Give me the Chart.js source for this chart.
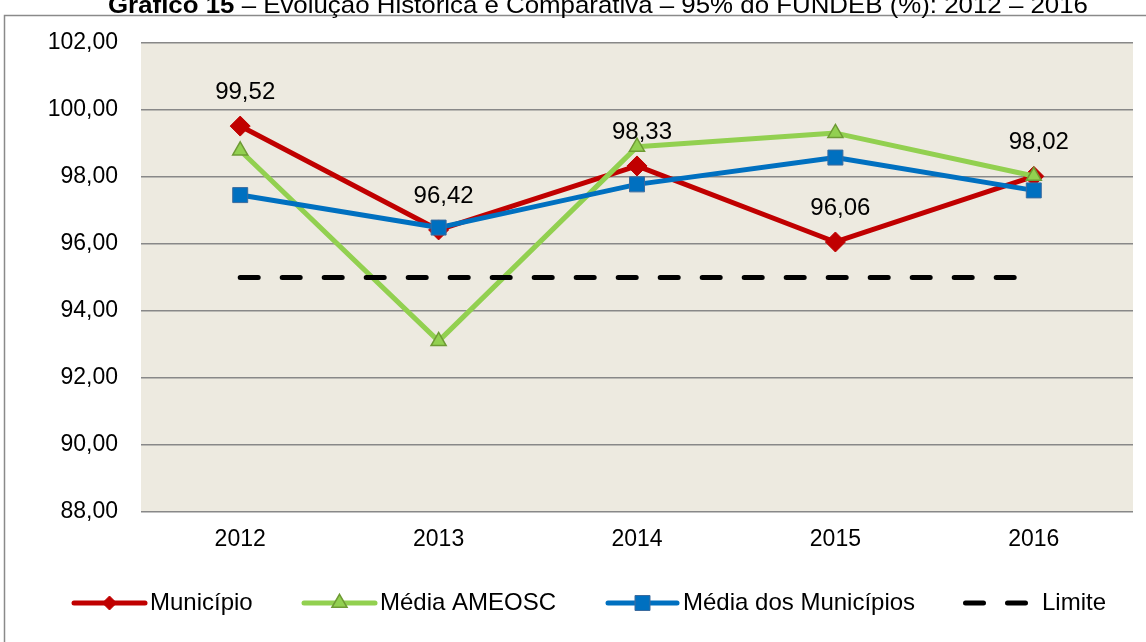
<!DOCTYPE html>
<html><head><meta charset="utf-8">
<script src="https://cdn.jsdelivr.net/npm/chart.js@4/dist/chart.umd.min.js"></script>
<style>html,body{margin:0;padding:0;background:#fff;overflow:hidden}canvas{display:block}</style>
</head><body>
<canvas id="c" width="1146" height="642"></canvas>
<script>
// ---- data ----
const categories = ['2012', '2013', '2014', '2015', '2016'];
const municipio = [99.52, 96.42, 98.33, 96.06, 98.02];
const mediaAmeosc = [98.79, 93.10, 98.90, 99.31, 98.03];
const mediaMunicipios = [97.46, 96.49, 97.78, 98.58, 97.60];
const limite = [95, 95, 95, 95, 95];
const seriesNames = ['Município', 'Média AMEOSC', 'Média dos Municípios', 'Limite'];
const yMin = 88, yMax = 102, yStep = 2;
const titleBold = 'Gráfico 15';
const titleRest = ' – Evolução Histórica e Comparativa – 95% do FUNDEB (%): 2012 – 2016';

const FONT = "'Liberation Sans', Arial, sans-serif";
const fmt = v => v.toFixed(2).replace('.', ',');

const frame = {
  id: 'frame',
  beforeDraw(chart) {
    const { ctx, chartArea: a } = chart;
    ctx.save();
    ctx.fillStyle = '#ffffff';
    ctx.fillRect(0, 0, chart.width, chart.height);
    ctx.fillStyle = '#EDEAE0';
    ctx.fillRect(a.left, a.top, a.right - a.left, a.bottom - a.top);
    ctx.strokeStyle = '#8a8a8a';
    ctx.lineWidth = 1.5;
    ctx.strokeRect(4.5, 15.5, 1400, 900);
    ctx.restore();
  }
};

const dataLabels = {
  id: 'dataLabels',
  afterDatasetsDraw(chart) {
    const ctx = chart.ctx;
    const meta = chart.getDatasetMeta(0);
    ctx.save();
    ctx.font = '24px ' + FONT;
    ctx.fillStyle = '#000';
    ctx.textAlign = 'center';
    ctx.textBaseline = 'middle';
    meta.data.forEach((el, i) => {
      ctx.fillText(fmt(municipio[i]), el.x + 5, el.y - 34);
    });
    ctx.restore();
  }
};

const titleAndLegend = {
  id: 'titleAndLegend',
  afterDraw(chart) {
    const ctx = chart.ctx;
    ctx.save();
    // title (clipped at top as in reference)
    ctx.textBaseline = 'alphabetic';
    ctx.fillStyle = '#000';
    ctx.font = 'bold 24px ' + FONT;
    const wb = ctx.measureText(titleBold).width;
    ctx.font = '24px ' + FONT;
    const wr = ctx.measureText(titleRest).width;
    const sx = 980 / (wb + wr);
    ctx.translate(108, 12.5);
    ctx.scale(sx, 1);
    ctx.font = 'bold 24px ' + FONT;
    ctx.fillText(titleBold, 0, 0);
    ctx.font = '24px ' + FONT;
    ctx.fillText(titleRest, wb, 0);
    ctx.restore();

    // legend
    ctx.save();
    const ly = 603;
    const items = [
      { ds: 0, x0: 74, x1: 145, tx: 150, r: 7 },
      { ds: 1, x0: 304, x1: 375, tx: 380, r: 8.7 },
      { ds: 2, x0: 608, x1: 677, tx: 683, r: 10.6 },
      { ds: 3, x0: 963, x1: 1031, tx: 1042, r: 0 }
    ];
    items.forEach(it => {
      const d = chart.data.datasets[it.ds];
      ctx.save();
      ctx.strokeStyle = d.borderColor;
      ctx.lineWidth = d.borderWidth;
      ctx.lineCap = 'round';
      if (d.borderDash) ctx.setLineDash(d.borderDash);
      ctx.beginPath();
      ctx.moveTo(it.x0 + (d.borderDash ? 2.5 : 0), ly);
      ctx.lineTo(it.x1, ly);
      ctx.stroke();
      ctx.restore();
      if (it.r > 0) {
        ctx.save();
        ctx.fillStyle = d.pointBackgroundColor;
        ctx.strokeStyle = d.pointBorderColor;
        ctx.lineWidth = d.pointBorderWidth;
        Chart.helpers.drawPoint(ctx, { pointStyle: d.pointStyle, radius: it.r, rotation: 0, borderWidth: d.pointBorderWidth }, (it.x0 + it.x1) / 2, ly);
        ctx.restore();
      }
      ctx.font = '24px ' + FONT;
      ctx.fillStyle = '#000';
      ctx.textAlign = 'left';
      ctx.textBaseline = 'middle';
      ctx.fillText(seriesNames[it.ds], it.tx, ly);
    });
    ctx.restore();
  }
};

new Chart(document.getElementById('c'), {
  type: 'line',
  data: {
    labels: categories,
    datasets: [
      {
        label: seriesNames[0], data: municipio, order: 4,
        borderColor: '#C00000', borderWidth: 5, borderJoinStyle: 'round', borderCapStyle: 'round',
        pointStyle: 'rectRot', pointRadius: 10,
        pointBackgroundColor: '#C00000', pointBorderColor: '#C00000', pointBorderWidth: 1
      },
      {
        label: seriesNames[1], data: mediaAmeosc, order: 3,
        borderColor: '#92D050', borderWidth: 5, borderJoinStyle: 'round', borderCapStyle: 'round',
        pointStyle: 'triangle', pointRadius: 8.7,
        pointBackgroundColor: '#92D050', pointBorderColor: '#6E9A34', pointBorderWidth: 1.5
      },
      {
        label: seriesNames[2], data: mediaMunicipios, order: 2,
        borderColor: '#0070C0', borderWidth: 5, borderJoinStyle: 'round', borderCapStyle: 'round',
        pointStyle: 'rect', pointRadius: 10.6,
        pointBackgroundColor: '#0070C0', pointBorderColor: '#3C6C9E', pointBorderWidth: 1
      },
      {
        label: seriesNames[3], data: limite, order: 1,
        borderColor: '#000000', borderWidth: 5,
        borderDash: [18, 24], borderCapStyle: 'round',
        pointRadius: 0, pointHoverRadius: 0
      }
    ]
  },
  options: {
    responsive: false,
    animation: false,
    devicePixelRatio: 1,
    layout: { padding: { left: 0, right: 13, top: 43, bottom: 0 } },
    plugins: { legend: { display: false }, title: { display: false }, tooltip: { enabled: false } },
    elements: { line: { tension: 0 } },
    scales: {
      x: {
        offset: true,
        grid: { display: false, drawTicks: false },
        border: { display: false },
        ticks: { color: '#000', font: { family: FONT, size: 23 }, padding: 14 },
        afterFit(scale) { scale.height = 130; }
      },
      y: {
        min: yMin, max: yMax,
        grid: { color: '#888888', lineWidth: 1.5, drawTicks: false },
        border: { display: false },
        ticks: {
          stepSize: yStep, color: '#000', font: { family: FONT, size: 23 }, padding: 23,
          callback: v => fmt(v)
        },
        afterFit(scale) { scale.width = 141; }
      }
    }
  },
  plugins: [frame, dataLabels, titleAndLegend]
});
</script>
</body></html>
